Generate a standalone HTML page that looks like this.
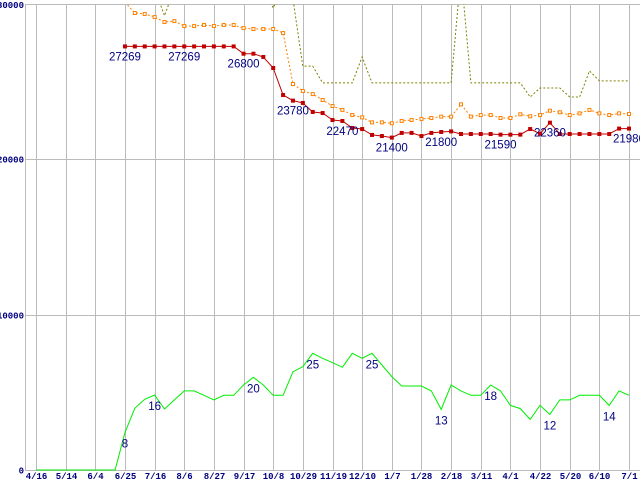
<!DOCTYPE html>
<html><head><meta charset="utf-8"><style>
html,body{margin:0;padding:0;background:#fff;}
svg{display:block;}
.tick{font-family:"Liberation Mono","DejaVu Sans Mono",monospace;font-size:9px;font-weight:bold;fill:#000080;}
.lbl{font-family:"Liberation Sans","DejaVu Sans",sans-serif;font-size:11.5px;fill:#000080;}
</style></head><body>
<svg id="chart" width="640" height="480" viewBox="0 0 640 480"></svg>
<script>
const xLabels=["4/16","5/14","6/4","6/25","7/16","8/6","8/27","9/17","10/8","10/29","11/19","12/10","1/7","1/28","2/18","3/11","4/1","4/22","5/20","6/10","7/1"];
const yTicks=[0,10000,20000,30000];
const redStart=9;
const redValues=[27269,27269,27269,27269,27269,27269,27269,27269,27269,27269,27269,27269,26800,26800,26590,25880,24140,23780,23630,23050,22980,22530,22470,22020,21950,21570,21500,21400,21700,21700,21500,21700,21760,21800,21630,21630,21630,21630,21590,21590,21590,21950,21650,22360,21630,21630,21630,21630,21630,21630,21980,21980];
const orangeStart=9;
const orangeValues=[30130,29420,29360,29160,28840,28900,28580,28580,28650,28580,28650,28650,28450,28390,28390,28390,28130,24850,24400,24200,23820,23430,23180,22850,22700,22380,22380,22320,22470,22530,22600,22660,22750,22750,23540,22750,22850,22850,22660,22660,22900,22770,22850,23130,23030,22850,22960,23180,22960,22850,22960,22920];
const oliveStart=9;
const oliveValues=[31000,31000,31000,31000,29250,31000,31000,31000,31000,31000,31000,31000,31000,31000,31000,29750,31000,30300,26000,26000,24920,24920,24920,24920,26590,24920,24920,24920,24920,24920,24920,24920,24920,24920,32000,24920,24920,24920,24920,24920,24920,24010,24590,24590,24590,24010,24010,25690,25050,25050,25050,25050];
const greenStart=0;
const greenValues=[0,0,0,0,0,0,0,0,0,2400,3970,4550,4830,3930,4510,5090,5090,4810,4510,4810,4810,5470,5970,5470,4810,4810,6330,6650,7510,7190,6910,6610,7510,7190,7510,6760,6010,5410,5410,5410,5090,3900,5470,5090,4810,4810,5470,5090,4160,3950,3260,4160,3580,4510,4510,4810,4810,4810,4160,5090,4810];
const redLabelIdx=[9,15,21,26,31,36,41,47,52,60];
const redLabelText=["27269","27269","26800","23780","22470","21400","21800","21590","22360","21980"];
const greenLabelIdx=[9,12,22,28,34,41,46,52,58];
const greenLabelText=["8","16","20","25","25","13","18","12","14"];

const NS="http://www.w3.org/2000/svg";
const svg=document.getElementById('chart');
const X0=36,DX=(629-36)/60,Y0=470,YS=(470-4)/30000,LEFT=25;
function xs(i){return X0+DX*i;}
function ys(v){return Y0-v*YS;}
function mk(tag,attrs,parent){const e=document.createElementNS(NS,tag);for(const k in attrs)e.setAttribute(k,attrs[k]);(parent||svg).appendChild(e);return e;}

const defs=mk('defs',{});
const cp=mk('clipPath',{id:'plot'},defs);
mk('rect',{x:LEFT,y:4,width:640-LEFT,height:470},cp);

const grid=mk('g',{stroke:'#bbbbbb','stroke-width':1});


mk('line',{x1:LEFT+0.5,y1:4,x2:LEFT+0.5,y2:470},grid);
xLabels.forEach((t,k)=>{
  const x=Math.round(xs(k*3))+0.5;
  const l=mk('line',{x1:x,y1:4,x2:x,y2:470},grid);
  
  
  const tx=mk('text',{x:x,y:479,'text-anchor':'middle',class:'tick'});
  tx.textContent=t;
  
  
});
yTicks.forEach(v=>{
  const y=Math.round(ys(v))+0.5;
  const l=mk('line',{x1:LEFT,y1:y,x2:640,y2:y},grid);
  
  
  const tx=mk('text',{x:LEFT-1,y:Math.max(y+3,8),'text-anchor':'end',class:'tick'});
  tx.textContent=String(v);
  
  
});

function pts(start,vals){return vals.map((v,j)=>[xs(start+j),ys(v)]);}
function poly(p,attrs,name){
  const e=mk('polyline',Object.assign({points:p.map(q=>q[0].toFixed(1)+','+q[1].toFixed(1)).join(' '),fill:'none','clip-path':'url(#plot)'},attrs));
  
  
  return e;
}
poly(pts(oliveStart,oliveValues),{stroke:'#808000','stroke-width':1,'stroke-dasharray':'2,2'},'olive-series-line');
const op=pts(orangeStart,orangeValues);
poly(op,{stroke:'#ff8000','stroke-width':1,'stroke-dasharray':'2,2'},'orange-series-line');
op.forEach(p=>{
  const r=mk('rect',{x:p[0]-1.5,y:p[1]-1.5,width:3,height:3,fill:'#fff',stroke:'#ff8000','stroke-width':1,'clip-path':'url(#plot)'});
  
  
});
const rp=pts(redStart,redValues);
poly(rp,{stroke:'#c00000','stroke-width':1},'red-series-line');
rp.forEach(p=>{
  const r=mk('rect',{x:p[0]-2,y:p[1]-2,width:4,height:4,fill:'#c00000'});
  
  
});
const gp=pts(greenStart,greenValues);
poly(gp,{stroke:'#00ee00','stroke-width':1},'green-series-line');

redLabelIdx.forEach((i,k)=>{
  const t=mk('text',{x:xs(i),y:ys(redValues[i-redStart])+14,'text-anchor':'middle',class:'lbl'});
  t.textContent=redLabelText[k];
  
  
});
greenLabelIdx.forEach((i,k)=>{
  const t=mk('text',{x:xs(i),y:ys(greenValues[i-greenStart])+15,'text-anchor':'middle',class:'lbl'});
  t.textContent=greenLabelText[k];
  
  
});
</script>
</body></html>
